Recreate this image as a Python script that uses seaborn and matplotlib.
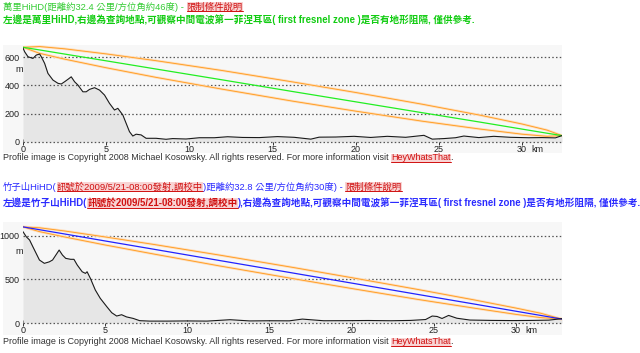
import matplotlib
matplotlib.use("Agg")
import matplotlib.pyplot as plt
import seaborn as sns
from matplotlib.patches import Rectangle
from matplotlib.lines import Line2D

# ---------- data ----------
# chart 1: 萬里 -> query point, 32.4 km
km1 = [0, 0.1, 0.3, 0.6, 0.8, 1.0, 1.1, 1.3, 1.5, 1.8, 2.1, 2.3, 2.5, 2.7, 2.9, 3.1, 3.3, 3.6,
       3.8, 4.0, 4.3, 4.6, 4.9, 5.2, 5.5, 5.7, 6.0, 6.2, 6.4, 6.6, 6.8, 7.1, 7.4, 8.0, 8.6, 9.0,
       9.8, 10.6, 11.5, 12.3, 13.2, 14.2, 15.3, 16.3, 17.3, 17.8, 18.8, 19.9, 20.9, 21.9, 23.0,
       24.1, 24.6, 25.3, 26.0, 26.5, 27.4, 28.3, 29.3, 30.4, 31.2, 32.0, 32.4]
elev1 = [665, 638, 603, 591, 615, 622, 603, 556, 485, 438, 415, 410, 426, 443, 461, 426, 403, 355,
         355, 372, 384, 367, 332, 273, 226, 238, 191, 132, 73, 42, 55, 50, 26, 26, 19, 24,
         21, 30, 30, 37, 32, 31, 38, 33, 20, 34, 35, 40, 32, 40, 33,
         47, 20, 24, 30, 42, 31, 40, 33, 30, 31, 29, 45]
fz_km1 = [0, 1, 2.5, 5, 8, 12, 16.2, 20, 24, 27.5, 30, 31.5, 32.4]
los1 = [670, 651, 622, 574, 516, 439, 357, 284, 207, 140, 91, 62, 45]
fz_up1 = [670, 675, 659, 623, 575, 505, 425, 350, 267, 189, 127, 84, 45]
fz_lo1 = [670, 627, 586, 525, 457, 373, 289, 218, 147, 91, 55, 40, 45]

# chart 2: 竹子山 -> query point, 32.8 km
km2 = [0, 0.2, 0.4, 0.6, 0.8, 1.0, 1.3, 1.6, 1.8, 2.0, 2.2, 2.4, 2.6, 2.9, 3.1, 3.3, 3.6, 3.8,
       3.9, 4.1, 4.4, 4.7, 5.1, 5.4, 5.7, 6.0, 6.3, 6.7, 7.1, 7.7, 8.8, 10.0, 11.2, 12.6, 13.8,
       15.0, 16.2, 17.0, 18.3, 19.6, 21.0, 22.4, 23.6, 24.5, 24.9, 25.2, 25.5, 25.9, 26.4, 27.2,
       28.5, 29.8, 31.0, 32.0, 32.8]
elev2 = [1045, 987, 950, 873, 797, 721, 683, 700, 721, 778, 835, 778, 740, 729, 729, 664, 587, 568,
         587, 511, 378, 283, 187, 118, 80, 95, 70, 53, 27, 22, 22, 24, 22, 38, 24,
         26, 25, 45, 26, 27, 29, 26, 30, 40, 80, 75, 52, 87, 55, 34,
         30, 28, 30, 33, 50]
fz_km2 = [0, 1, 2.5, 5, 8, 12, 16.4, 20, 24, 27.5, 30, 31.5, 32.8]
los2 = [1100, 1068, 1020, 939, 843, 714, 573, 457, 328, 216, 135, 87, 45]
fz_up2 = [1100, 1090, 1054, 985, 898, 776, 637, 519, 385, 263, 171, 112, 45]
fz_lo2 = [1100, 1046, 986, 893, 788, 652, 509, 395, 271, 169, 99, 62, 45]

xticks = [0, 5, 10, 15, 20, 25, 30]
yticks1 = [0, 200, 400, 600]
yticks2 = [0, 500, 1000]

# ---------- page ----------
W, H = 640, 353
sns.set_style("white")
MIX = ['Liberation Sans', 'Noto Sans CJK TC', 'DejaVu Sans']
LAT = ['Liberation Sans', 'DejaVu Sans']

fig = plt.figure(figsize=(W / 100, H / 100), dpi=100)
renderer = fig.canvas.get_renderer()

GREEN = '#33cc33'
BLUE = '#2b2bff'
RED = '#d01010'
PINK = '#f8d4d4'


def write_runs(runs, x0, y, size, weight='normal', family=MIX):
    # runs: (text, color, highlighted)
    x = x0
    for txt, color, hl in runs:
        t = fig.text(x / W, 1 - y / H, txt, color=color, fontsize=size, weight=weight,
                     family=family, ha='left', va='center')
        bb = t.get_window_extent(renderer)
        if hl:
            fig.patches.append(Rectangle((bb.x0 / W, bb.y0 / H), bb.width / W, bb.height / H,
                                         transform=fig.transFigure, facecolor=PINK, edgecolor='none', zorder=-1))
            fig.add_artist(Line2D([bb.x0 / W, bb.x1 / W], [(bb.y0 + 0.5) / H] * 2,
                                  transform=fig.transFigure, color=RED, lw=0.7))
        x = bb.x1


def profile(top, bottom, km, elev, fkm, los, up, lo, line_col, yt, xmax, ylim, m_y):
    # light panel behind the chart
    fig.patches.append(Rectangle((3 / W, 1 - bottom / H), (562 - 3) / W, (bottom - top) / H,
                                 transform=fig.transFigure, facecolor='#f7f7f7', edgecolor='none', zorder=-2))
    ax = fig.add_axes([23 / W, 1 - bottom / H, (562 - 23) / W, (bottom - top) / H])
    ax.set_facecolor('none')
    ax.fill_between(km, 0, elev, color='#e6e6e6', lw=0)
    for yv in yt:
        ax.axhline(yv, color='#555555', lw=0.9, ls=(0, (1.2, 1.8)), zorder=1)
    for s in (up, lo):
        sns.lineplot(x=fkm, y=s, ax=ax, color='#ffdcb8', lw=1.8, zorder=2)
        sns.lineplot(x=fkm, y=s, ax=ax, color='#ff9a1a', lw=0.6, zorder=3)
    sns.lineplot(x=fkm, y=los, ax=ax, color=line_col, lw=0.9, zorder=3)
    sns.lineplot(x=km, y=elev, ax=ax, color='#1a1a1a', lw=0.8, zorder=4)
    ax.set_xlim(0, xmax)
    ax.set_ylim(*ylim)
    for s in ('top', 'right', 'left'):
        ax.spines[s].set_visible(False)
    ax.spines['bottom'].set_position(('data', 0))
    ax.spines['bottom'].set_visible(False)
    ax.set_xticks(xticks)
    ax.set_xticklabels([str(v) for v in xticks], family=LAT, fontsize=6.5, color='#222222')
    ax.tick_params(axis='x', direction='inout', length=4, width=0.7, color='#333333', pad=0.5, bottom=True)
    ax.set_yticks(yt)
    ax.set_yticklabels([str(v) for v in yt], family=LAT, fontsize=6.5, color='#222222')
    ax.tick_params(axis='y', length=0, pad=2.5, left=True)
    ax.set_xlabel('')
    ax.set_ylabel('')
    ax.annotate('km', xy=(30.55, 0), xytext=(0, -2.7), textcoords='offset pixels', family=LAT,
                fontsize=6.5, color='#222222', ha='left', va='top')
    fig.text(19 / W, 1 - m_y / H, 'm', family=LAT, fontsize=6.5, color='#222222', ha='center', va='center')
    return ax


# ---------- section 1 ----------
write_runs([('萬里HiHD(距離約32.4 公里/方位角約46度) - ', GREEN, False),
            ('限制條件說明', RED, True)], 3, 7, 6.75)
write_runs([('左邊是萬里HiHD,右邊為查詢地點,可觀察中間電波第一菲涅耳區( first fresnel zone )是否有地形阻隔, 僅供參考.',
             '#11cc11', False)], 3, 20, 6.9, weight='bold')
profile(45, 153, km1, elev1, fz_km1, los1, fz_up1, fz_lo1, '#22ee22', yticks1, 32.4, (-78, 686), 69)
write_runs([('Profile image is Copyright 2008 Michael Kosowsky. All rights reserved. For more information visit ',
             '#333333', False), ('HeyWhatsThat', RED, True), ('.', '#333333', False)],
           3, 158, 6.5, family=LAT)

# ---------- section 2 ----------
write_runs([('竹子山HiHD(', BLUE, False), ('訊號於2009/5/21-08:00發射,調校中', RED, True),
            (')距離約32.8 公里/方位角約30度) - ', BLUE, False), ('限制條件說明', RED, True)], 3, 187, 6.75)
write_runs([('左邊是竹子山HiHD(', BLUE, False), ('訊號於2009/5/21-08:00發射,調校中', RED, True),
            ('),右邊為查詢地點,可觀察中間電波第一菲涅耳區( first fresnel zone )是否有地形阻隔, 僅供參考.', BLUE, False)],
           3, 203, 6.9, weight='bold')
profile(222, 335, km2, elev2, fz_km2, los2, fz_up2, fz_lo2, '#2222ff', yticks2, 32.8, (-137, 1156), 252)
write_runs([('Profile image is Copyright 2008 Michael Kosowsky. All rights reserved. For more information visit ',
             '#333333', False), ('HeyWhatsThat', RED, True), ('.', '#333333', False)],
           3, 342, 6.5, family=LAT)

fig.savefig('out.png', dpi=100)
